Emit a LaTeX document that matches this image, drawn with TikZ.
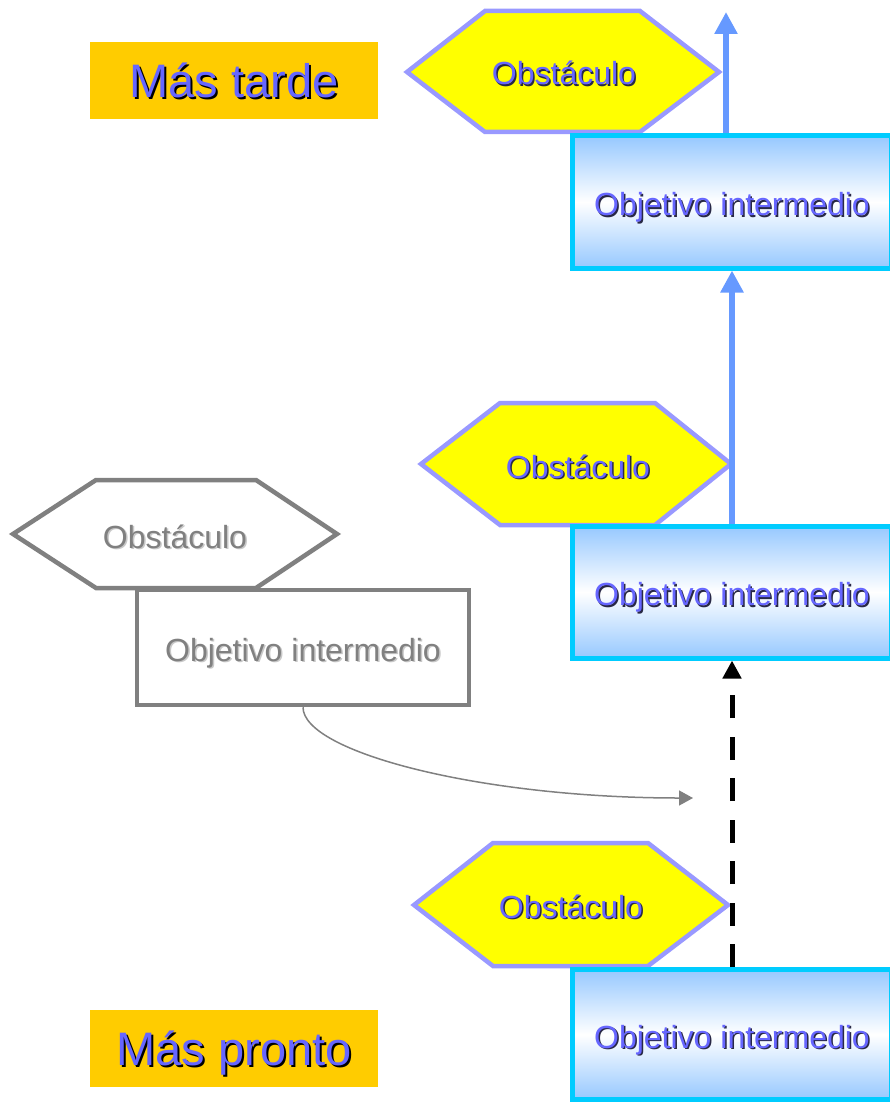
\documentclass[tikz,border=0pt]{standalone}
\usepackage{fontspec}
\setmainfont{Liberation Sans}
\usetikzlibrary{arrows.meta}
\definecolor{hexfill}{RGB}{255,255,0}
\definecolor{hexline}{RGB}{153,153,255}
\definecolor{txtblue}{RGB}{102,102,255}
\definecolor{boxline}{RGB}{0,204,255}
\definecolor{boxshade}{RGB}{150,200,255}
\definecolor{arrowblue}{RGB}{102,153,255}
\definecolor{labelfill}{RGB}{255,204,0}
\definecolor{greyline}{RGB}{128,128,128}
\definecolor{greyshadow}{RGB}{200,200,200}
\definecolor{darkshadow}{RGB}{40,40,70}
\newcommand\shd[3]{\makebox[0pt][l]{\hspace*{#3}\raisebox{-#3}{\textcolor{#2}{#1}}}#1}
\tikzset{
  hexbox/.style={draw=hexline, fill=hexfill, line width=4.5pt, line join=miter},
  greyhex/.style={draw=greyline, fill=white, line width=4.5pt, line join=miter},
  objbox/.style={draw=boxline, line width=5pt, top color=boxshade, bottom color=boxshade, middle color=white,
    minimum width=319pt, inner sep=0pt, font=\fontsize{32}{38}\selectfont, text=txtblue,
    text height=27pt, text depth=0pt},
  greybox/.style={draw=greyline, fill=white, line width=4.5pt, minimum width=332pt, minimum height=115pt,
    inner sep=0pt, font=\fontsize{32}{38}\selectfont, text=greyline, text height=27pt, text depth=0pt},
  hextext/.style={inner sep=0pt, font=\fontsize{32}{38}\selectfont, text=txtblue, text height=23pt, text depth=0pt},
  greytext/.style={inner sep=0pt, font=\fontsize{32}{38}\selectfont, text=greyline, text height=23pt, text depth=0pt},
  labelbox/.style={fill=labelfill, minimum width=288pt, minimum height=77pt, inner sep=0pt,
    font=\fontsize{47}{54}\selectfont, text=txtblue, text height=34pt, text depth=0pt},
  bluearrow/.style={draw=arrowblue, line width=6pt, -{Triangle[width=22pt,length=22pt]}},
  dasharrow/.style={draw=black, line width=5pt, dash pattern=on 23pt off 18.5pt, -{Triangle[width=18pt,length=18pt]}},
  greyarrow/.style={draw=greyline, line width=1.5pt, -{Triangle[width=15pt,length=14pt]}}
}
\begin{document}
\begin{tikzpicture}[x=1pt,y=-1pt]
\useasboundingbox (0,0) rectangle (890,1102);

% labels
\node[labelbox] (tarde) at (234,80.5) {\shd{Más tarde}{black}{2pt}};
\node[labelbox] (pronto) at (234,1048.5) {\shd{Más pronto}{black}{2pt}};

% grey (discarded) part
\draw[greyhex] (13,534) -- (96,480) -- (256,480) -- (337,534) -- (256,588) -- (96,588) -- cycle;
\node[greytext] (gh) at (175,536.5) {\shd{Obstáculo}{greyshadow}{1.5pt}};
\node[greybox] (gb) at (303,647.5) {\shd{Objetivo intermedio}{greyshadow}{1.5pt}};
\coordinate (gend) at (693,798);
\draw[greyarrow] (gb.south) .. controls (303,752) and (480,798) .. (gend);

% hexagons
\draw[hexbox] (407,72) -- (485,11) -- (640,11) -- (719,72) -- (640,132) -- (485,132) -- cycle;
\node[hextext] (h1) at (564,73.5) {\shd{Obstáculo}{darkshadow}{1.5pt}};
\draw[hexbox] (421,464) -- (500,403) -- (655,403) -- (731,464) -- (655,525) -- (500,525) -- cycle;
\node[hextext] (h2) at (578,466.5) {\shd{Obstáculo}{darkshadow}{1.5pt}};
\draw[hexbox] (414,905) -- (493,843) -- (648,843) -- (728,905) -- (648,966) -- (493,966) -- cycle;
\node[hextext] (h3) at (571,906.5) {\shd{Obstáculo}{darkshadow}{1.5pt}};

% boxes
\node[objbox, minimum height=132pt] (b1) at (732,202) {\shd{Objetivo intermedio}{darkshadow}{1.5pt}};
\node[objbox, minimum height=132pt] (b2) at (732,592) {\shd{Objetivo intermedio}{darkshadow}{1.5pt}};
\node[objbox, minimum height=130pt] (b3) at (732,1034.5) {\shd{Objetivo intermedio}{darkshadow}{1.5pt}};

% arrows
\coordinate (ttop) at (726,12);
\draw[bluearrow] ([xshift=-6pt]b1.north) -- (ttop);
\draw[bluearrow] (b2.north) -- (b1.south);
\draw[dasharrow] (b3.north) -- (b2.south);
\end{tikzpicture}
\end{document}
